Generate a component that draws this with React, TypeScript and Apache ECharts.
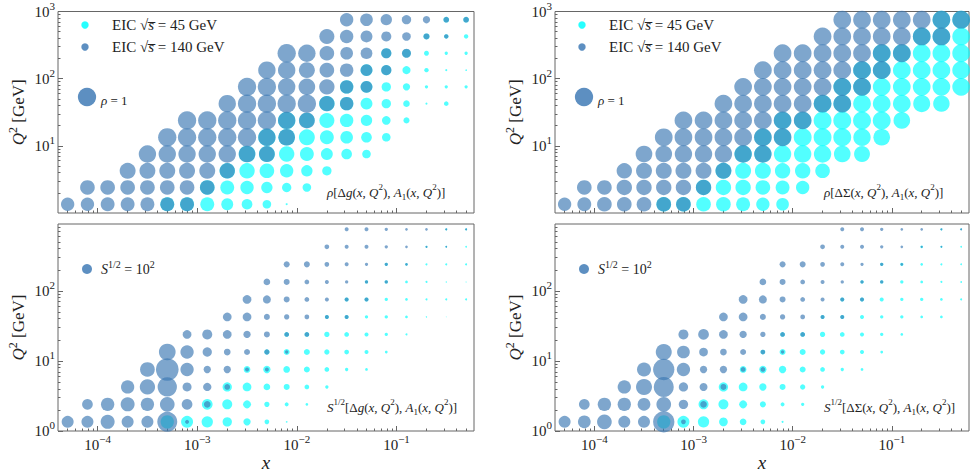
import React, { useEffect, useRef } from 'react';
import * as echarts from 'echarts';

// ---------------- data ----------------
// kinematic bins in x and Q^2 [GeV^2]
const X_VALUES = [5.0e-5, 7.9e-5, 1.26e-4, 2.0e-4, 3.16e-4, 5.0e-4, 7.9e-4, 1.26e-3, 2.0e-3, 3.16e-3, 5.0e-3,
  7.9e-3, 1.26e-2, 2.0e-2, 3.16e-2, 5.0e-2, 7.9e-2, 0.126, 0.2, 0.316, 0.5];
const Q2_VALUES = [1.35, 2.4, 4.25, 7.55, 13.4, 23.9, 42.5, 75.5, 134, 239, 425, 755];

// first x-bin index of each Q^2 row
const ROW_START_140 = [0, 1, 3, 4, 5, 6, 8, 9, 10, 11, 13, 14];
const ROW_START_45 = [5, 7, 8, 9, 10, 11, 13, 14, 15, 16, 18, 19];

// rho[Delta g, A1]
const RHO_DG_140 = [
  [0.73, 0.73, 0.76, 0.76, 0.76, 0.76, 0.76],
  [0.8, 0.8, 0.8, 0.8, 0.8, 0.8, 0.8],
  [0.87, 0.87, 0.87, 0.87, 0.87, 0.84],
  [0.95, 0.95, 0.95, 0.95, 0.95, 0.91, 0.87],
  [1, 1, 1, 1, 1, 0.95, 0.91],
  [1, 1, 1, 1, 1, 0.95, 0.87],
  [0.95, 1, 1, 1, 1, 0.84, 0.73],
  [1, 1, 0.95, 0.91, 0.84, 0.73, 0.65],
  [0.95, 0.95, 0.87, 0.8, 0.73, 0.65, 0.56],
  [1, 0.95, 0.8, 0.69, 0.64, 0.56, 0.49],
  [0.82, 0.73, 0.65, 0.55, 0.47, 0.33, 0.24],
  [0.73, 0.69, 0.62, 0.51, 0.4, 0.31, 0.31],
];
const RHO_DG_45 = [
  [0.76, 0.76, 0.76, 0.65, 0.58, 0.47, 0.11],
  [0.8, 0.76, 0.73, 0.62, 0.51, 0.47],
  [0.84, 0.84, 0.8, 0.73, 0.62, 0.51],
  [0.91, 0.87, 0.84, 0.76, 0.65, 0.58, 0.47],
  [0.95, 0.91, 0.87, 0.76, 0.69, 0.58, 0.47],
  [0.95, 0.84, 0.82, 0.73, 0.62, 0.47, 0.33],
  [0.84, 0.73, 0.65, 0.51, 0.36, 0.11, 0.25],
  [0.73, 0.65, 0.51, 0.4, 0.18, 0.18, 0.18],
  [0.65, 0.55, 0.44, 0.24, 0.11, 0.09],
  [0.55, 0.47, 0.27, 0.18, 0.18],
  [0.33, 0.24, 0.24],
  [0.31, 0.31],
];

// rho[Delta Sigma, A1]
const RHO_DS_140 = [
  [0.73, 0.76, 0.8, 0.8, 0.8, 0.8, 0.8],
  [0.8, 0.8, 0.84, 0.84, 0.84, 0.84, 0.84],
  [0.84, 0.87, 0.87, 0.87, 0.87, 0.87],
  [0.91, 0.91, 0.95, 0.95, 0.95, 0.95, 0.95],
  [0.97, 0.97, 0.97, 0.97, 0.97, 0.97, 0.97],
  [0.97, 0.97, 0.97, 0.97, 0.97, 0.97, 0.97],
  [0.97, 0.97, 0.97, 0.97, 0.97, 0.97, 0.97],
  [0.97, 0.97, 0.97, 0.97, 0.97, 0.97, 0.97],
  [0.97, 0.97, 0.97, 0.97, 0.97, 0.97, 0.97],
  [0.97, 0.97, 0.97, 0.97, 0.97, 0.97, 0.97],
  [0.97, 0.97, 0.97, 0.97, 0.97, 0.97, 0.97],
  [0.97, 0.97, 0.97, 0.97, 0.97, 0.97, 0.97],
];
const RHO_DS_45 = [
  [0.8, 0.8, 0.8, 0.8, 0.76, 0.73, 0.69],
  [0.84, 0.84, 0.84, 0.8, 0.76, 0.73],
  [0.87, 0.87, 0.87, 0.84, 0.84, 0.8],
  [0.95, 0.95, 0.95, 0.95, 0.95, 0.91, 0.87],
  [0.95, 0.95, 0.98, 0.98, 0.98, 0.95, 0.91],
  [0.95, 0.95, 0.98, 0.98, 0.98, 0.98, 0.91],
  [0.97, 0.97, 0.97, 0.97, 0.97, 0.93, 0.9],
  [0.97, 0.97, 0.97, 0.97, 0.97, 0.97, 0.97],
  [0.97, 0.97, 0.97, 0.97, 0.97, 0.97],
  [0.97, 0.97, 0.97, 0.97, 0.97],
  [0.97, 0.97, 0.97],
  [0.97, 0.97],
];

// S^{1/2}[Delta g, A1]
const S_DG_140 = [
  [120, 120, 140, 120, 120, 200, 40],
  [107, 133, 140, 133, 147, 107, 67],
  [133, 153, 193, 90, 83, 57],
  [147, 227, 133, 73, 73, 40, 40],
  [167, 133, 93, 67, 60, 53, 33],
  [87, 100, 87, 73, 60, 47, 47],
  [87, 87, 60, 53, 47, 40, 40],
  [87, 80, 60, 47, 40, 40, 40],
  [67, 60, 47, 40, 33, 33, 33],
  [60, 60, 47, 40, 33, 33, 27],
  [47, 40, 40, 33, 27, 20, 17],
  [40, 40, 33, 27, 27, 20, 20],
];
const S_DG_45 = [
  [133, 120, 113, 93, 73, 47, 17],
  [107, 100, 80, 53, 40, 27],
  [93, 87, 67, 60, 47, 33],
  [67, 73, 67, 60, 47, 33, 27],
  [53, 60, 60, 53, 47, 40, 27],
  [47, 47, 53, 47, 40, 33, 20],
  [40, 40, 33, 33, 27, 13, 7],
  [40, 40, 33, 27, 20, 20, 20],
  [33, 33, 27, 20, 13, 10],
  [33, 27, 20, 20, 20],
  [20, 17, 17],
  [20, 20],
];

// S^{1/2}[Delta Sigma, A1]
const S_DS_140 = [
  [120, 127, 147, 120, 120, 213, 47],
  [107, 133, 133, 127, 147, 93, 67],
  [133, 160, 200, 93, 80, 60],
  [140, 213, 133, 73, 73, 47, 47],
  [160, 127, 87, 67, 60, 47, 33],
  [100, 107, 87, 73, 53, 47, 47],
  [87, 87, 60, 53, 47, 40, 40],
  [87, 80, 60, 47, 40, 40, 40],
  [67, 60, 47, 40, 33, 33, 33],
  [60, 60, 47, 40, 33, 33, 27],
  [47, 40, 40, 33, 27, 20, 17],
  [40, 40, 33, 27, 27, 20, 20],
];
const S_DS_45 = [
  [133, 120, 113, 87, 67, 47, 20],
  [100, 100, 80, 60, 40, 33],
  [93, 87, 73, 60, 53, 33],
  [67, 73, 73, 60, 47, 33, 27],
  [47, 60, 60, 53, 47, 40, 27],
  [47, 47, 53, 47, 40, 33, 27],
  [40, 40, 40, 33, 33, 27, 27],
  [40, 40, 40, 33, 33, 27, 20],
  [33, 33, 33, 27, 20, 17],
  [33, 33, 27, 20, 17],
  [27, 20, 17],
  [20, 17],
];

// axis ticks
const X_MAJOR = [1e-4, 1e-3, 1e-2, 1e-1];
const Y_MAJOR_TOP = [10, 100, 1000];
const Y_MAJOR_BOTTOM = [1, 10, 100];
const MINOR_MULT = [2, 3, 4, 5, 6, 7, 8, 9];
const X_DECADES = [1e-5, 1e-4, 1e-3, 1e-2, 1e-1];
const Y_DECADES = [1, 10, 100];

// ---------------- styling ----------------
const FONT = "'Liberation Serif', 'DejaVu Serif', serif";
const CYAN = 'rgba(0,255,255,0.85)';
const BLUE = 'rgba(60,120,180,0.83)';
const FRAME = '#666';
const TXT = '#222';
const RHO_PX = 18.3; // diameter for rho = 1
const S100_PX = 10; // diameter for S^{1/2} = 100

const X_MIN = 4e-5;
const X_MAX = 0.6;

function minorTicks(decades: number[], lo: number, hi: number) {
  const out: number[] = [];
  decades.forEach((d) => MINOR_MULT.forEach((m) => {
    const v = d * m;
    if (v > lo && v < hi) out.push(v);
  }));
  return out;
}

function points(starts: number[], rows: number[][]) {
  const out: number[][] = [];
  rows.forEach((vals, j) => vals.forEach((v, i) => out.push([X_VALUES[starts[j] + i], Q2_VALUES[j], v])));
  return out;
}

const supLabel = (v: number) => {
  const e = Math.round(Math.log10(v));
  return `{b|10}{s|${e < 0 ? '\u2212' + Math.abs(e) : e}}`;
};

const TICK_RICH = {
  b: { fontFamily: FONT, fontSize: 15, color: TXT, lineHeight: 23 },
  s: { fontFamily: FONT, fontSize: 11, color: TXT, lineHeight: 12, verticalAlign: 'top' },
};

const TEXT_RICH = (size: number) => ({
  r: { fontFamily: FONT, fontSize: size, color: TXT, lineHeight: size + 6 },
  i: { fontFamily: FONT, fontSize: size, fontStyle: 'italic', color: TXT, lineHeight: size + 6 },
  sup: { fontFamily: FONT, fontSize: Math.round(size * 0.7), color: TXT, lineHeight: Math.round(size * 0.7) + 1, verticalAlign: 'top' },
  sub: { fontFamily: FONT, fontSize: Math.round(size * 0.7), color: TXT, lineHeight: Math.round(size * 0.7) + 1, verticalAlign: 'bottom' },
});

type Panel = {
  left: number; top: number; width: number; height: number;
  yMax: number; yMajor: number[]; xLabels: boolean;
  v45: number[][]; v140: number[][]; px: number; perUnit: number;
};

const PANELS: Panel[] = [
  { left: 58, top: 6, width: 416, height: 207, yMax: 1000, yMajor: Y_MAJOR_TOP, xLabels: false, v45: RHO_DG_45, v140: RHO_DG_140, px: RHO_PX, perUnit: 1 },
  { left: 555, top: 6, width: 414, height: 207, yMax: 1000, yMajor: Y_MAJOR_TOP, xLabels: false, v45: RHO_DS_45, v140: RHO_DS_140, px: RHO_PX, perUnit: 1 },
  { left: 58, top: 224, width: 416, height: 207, yMax: 900, yMajor: Y_MAJOR_BOTTOM, xLabels: true, v45: S_DG_45, v140: S_DG_140, px: S100_PX, perUnit: 100 },
  { left: 555, top: 224, width: 414, height: 207, yMax: 900, yMajor: Y_MAJOR_BOTTOM, xLabels: true, v45: S_DS_45, v140: S_DS_140, px: S100_PX, perUnit: 100 },
];

function buildOption() {
  const grid: any[] = [];
  const xAxis: any[] = [];
  const yAxis: any[] = [];
  const series: any[] = [];
  const xMinor = minorTicks(X_DECADES, X_MIN, X_MAX);

  PANELS.forEach((p, i) => {
    grid.push({ left: p.left, top: p.top, width: p.width, height: p.height, show: true, borderColor: FRAME, borderWidth: 1, backgroundColor: 'transparent' });
    const yMinor = minorTicks(Y_DECADES, 1, p.yMax);
    xAxis.push({
      type: 'log', gridIndex: i, min: X_MIN, max: X_MAX, position: 'bottom',
      axisLine: { show: false }, splitLine: { show: false },
      axisTick: { show: true, inside: true, length: 5, customValues: X_MAJOR, lineStyle: { color: FRAME } },
      axisLabel: { show: p.xLabels, customValues: X_MAJOR, margin: 2, formatter: supLabel, rich: TICK_RICH },
      name: p.xLabels ? 'x' : '', nameLocation: 'middle', nameGap: 20,
      nameTextStyle: { fontFamily: FONT, fontStyle: 'italic', fontSize: 19, color: TXT },
    });
    xAxis.push({
      type: 'log', gridIndex: i, min: X_MIN, max: X_MAX, position: 'bottom',
      axisLine: { show: false }, splitLine: { show: false }, axisLabel: { show: false },
      axisTick: { show: true, inside: true, length: 2.5, customValues: xMinor, lineStyle: { color: FRAME } },
    });
    yAxis.push({
      type: 'log', gridIndex: i, min: 1, max: p.yMax, position: 'left',
      axisLine: { show: false }, splitLine: { show: false },
      axisTick: { show: true, inside: true, length: 5, customValues: p.yMajor, lineStyle: { color: FRAME } },
      axisLabel: { show: true, customValues: p.yMajor, margin: 3, formatter: supLabel, rich: TICK_RICH },
      name: '{i|Q}{sup|2}{r| [GeV]}', nameLocation: 'middle', nameRotate: 90, nameGap: 28,
      nameTextStyle: { rich: TEXT_RICH(17) },
    });
    yAxis.push({
      type: 'log', gridIndex: i, min: 1, max: p.yMax, position: 'left',
      axisLine: { show: false }, splitLine: { show: false }, axisLabel: { show: false },
      axisTick: { show: true, inside: true, length: 2.5, customValues: yMinor, lineStyle: { color: FRAME } },
    });
    const size = (d: number[]) => (d[2] / p.perUnit) * p.px;
    series.push({
      name: 'EIC 45 GeV', type: 'scatter', xAxisIndex: 2 * i, yAxisIndex: 2 * i,
      data: points(ROW_START_45, p.v45), symbol: 'circle', symbolSize: size,
      itemStyle: { color: CYAN }, silent: true, z: 2,
    });
    series.push({
      name: 'EIC 140 GeV', type: 'scatter', xAxisIndex: 2 * i, yAxisIndex: 2 * i,
      data: points(ROW_START_140, p.v140), symbol: 'circle', symbolSize: size,
      itemStyle: { color: BLUE }, silent: true, z: 3,
    });
  });

  const txt = (x: number, y: number, text: string, size: number, align = 'left') => ({
    type: 'text', x, y, z: 10,
    style: {
      text, rich: TEXT_RICH(size), fontFamily: FONT, fontSize: size, fill: TXT,
      align, verticalAlign: 'middle', textAlign: align, textVerticalAlign: 'middle',
    },
  });
  const dot = (cx: number, cy: number, r: number, color: string) => ({
    type: 'circle', z: 10, shape: { cx, cy, r }, style: { fill: color },
  });

  const graphic: any[] = [];
  [0, 497].forEach((dx) => {
    graphic.push(dot(85 + dx, 25, 3.7, CYAN));
    graphic.push(txt(112 + dx, 25, '{r|EIC }{r|\u221A}{i|s\u0305}{r| = 45 GeV}', 15));
    graphic.push(dot(85 + dx, 47, 3.7, BLUE));
    graphic.push(txt(112 + dx, 47, '{r|EIC }{r|\u221A}{i|s\u0305}{r| = 140 GeV}', 15));
    graphic.push(dot(87 + dx, 97, RHO_PX / 2, BLUE));
    graphic.push(txt(101 + dx, 100, '{i|\u03C1}{r| = 1}', 13));
    graphic.push(dot(87 + dx, 269, S100_PX / 2, BLUE));
    graphic.push(txt(101 + dx, 269, '{i|S}{sup|1/2}{r| = 10}{sup|2}', 14));
  });
  graphic.push(txt(327, 192, '{i|\u03C1}{r|[\u0394}{i|g}{r|(}{i|x}{r|, }{i|Q}{sup|2}{r|), }{i|A}{sub|1}{r|(}{i|x}{r|, }{i|Q}{sup|2}{r|)]}', 13));
  graphic.push(txt(824, 192, '{i|\u03C1}{r|[\u0394\u03A3(}{i|x}{r|, }{i|Q}{sup|2}{r|), }{i|A}{sub|1}{r|(}{i|x}{r|, }{i|Q}{sup|2}{r|)]}', 13));
  graphic.push(txt(327, 407, '{i|S}{sup|1/2}{r|[\u0394}{i|g}{r|(}{i|x}{r|, }{i|Q}{sup|2}{r|), }{i|A}{sub|1}{r|(}{i|x}{r|, }{i|Q}{sup|2}{r|)]}', 13));
  graphic.push(txt(824, 407, '{i|S}{sup|1/2}{r|[\u0394\u03A3(}{i|x}{r|, }{i|Q}{sup|2}{r|), }{i|A}{sub|1}{r|(}{i|x}{r|, }{i|Q}{sup|2}{r|)]}', 13));

  return { animation: false, backgroundColor: '#fff', grid, xAxis, yAxis, series, graphic };
}

export default function App() {
  const ref = useRef<HTMLDivElement>(null);
  useEffect(() => {
    if (!ref.current) return;
    const chart = echarts.init(ref.current, undefined, { renderer: 'svg' });
    chart.setOption(buildOption() as any);
    return () => chart.dispose();
  }, []);
  return <div ref={ref} style={{ position: 'absolute', left: 0, top: 0, width: 971, height: 476 }} />;
}
